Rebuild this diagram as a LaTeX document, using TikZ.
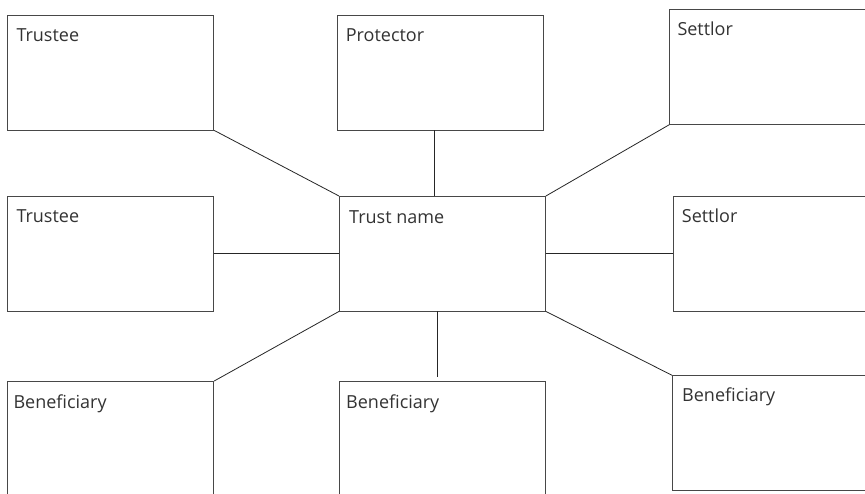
\documentclass[tikz,border=0pt]{standalone}
\usepackage{fontspec}
\setmainfont{Open Sans}
\begin{document}
\begin{tikzpicture}[x=1pt,y=-1pt,
  box/.style={draw=black!72, line width=0.9pt, rectangle, inner sep=0pt, anchor=north west, minimum width=206pt, minimum height=114.5pt},
  lbl/.style={anchor=base west, inner sep=0pt, text=black!80, font=\fontsize{18pt}{21pt}\selectfont},
  conn/.style={draw=black!85, line width=0.8pt}]
\clip (0,0) rectangle (865,493);
\fill[white] (0,0) rectangle (865,493);
% boxes
\node[box] (trA) at (7.3,15) {};
\node[box] (prot) at (336.7,15) {};
\node[box] (setA) at (669.3,9.3) {};
\node[box] (trB) at (7.3,196) {};
\node[box] (trust) at (339,196) {};
\node[box] (setB) at (672.7,196) {};
\node[box] (benA) at (7.3,381) {};
\node[box] (benB) at (339,381) {};
\node[box] (benC) at (672,375.3) {};
% labels
\node[lbl] (ltrA) at ([shift={(9,26)}]trA.north west) {Trustee};
\node[lbl] (lprot) at ([shift={(9,26)}]prot.north west) {Protector};
\node[lbl] (lsetA) at ([shift={(8,26)}]setA.north west) {Settlor};
\node[lbl] (ltrB) at ([shift={(9,26)}]trB.north west) {Trustee};
\node[lbl] (ltrust) at ([shift={(10,27)}]trust.north west) {Trust name};
\node[lbl] (lsetB) at ([shift={(9,26)}]setB.north west) {Settlor};
\node[lbl] (lbenA) at ([shift={(6,27)}]benA.north west) {Beneficiary};
\node[lbl] (lbenB) at ([shift={(7,27)}]benB.north west) {Beneficiary};
\node[lbl] (lbenC) at ([shift={(10,26)}]benC.north west) {Beneficiary};
% connectors
\draw[conn] (trA.south east) -- (trust.north west);
\draw[conn] ([xshift=-5.4pt]prot.south) -- ([xshift=-5.4pt]prot.south |- trust.north);
\draw[conn] (setA.south west) -- (trust.north east);
\draw[conn] (trB.east) -- (trust.west);
\draw[conn] (trust.east) -- (setB.west);
\draw[conn] (trust.south west) -- (benA.north east);
\draw[conn, shorten >=4pt] ([xshift=-5pt]trust.south) -- ([xshift=-5pt]trust.south |- benB.north);
\draw[conn] (trust.south east) -- (benC.north west);
\end{tikzpicture}
\end{document}
